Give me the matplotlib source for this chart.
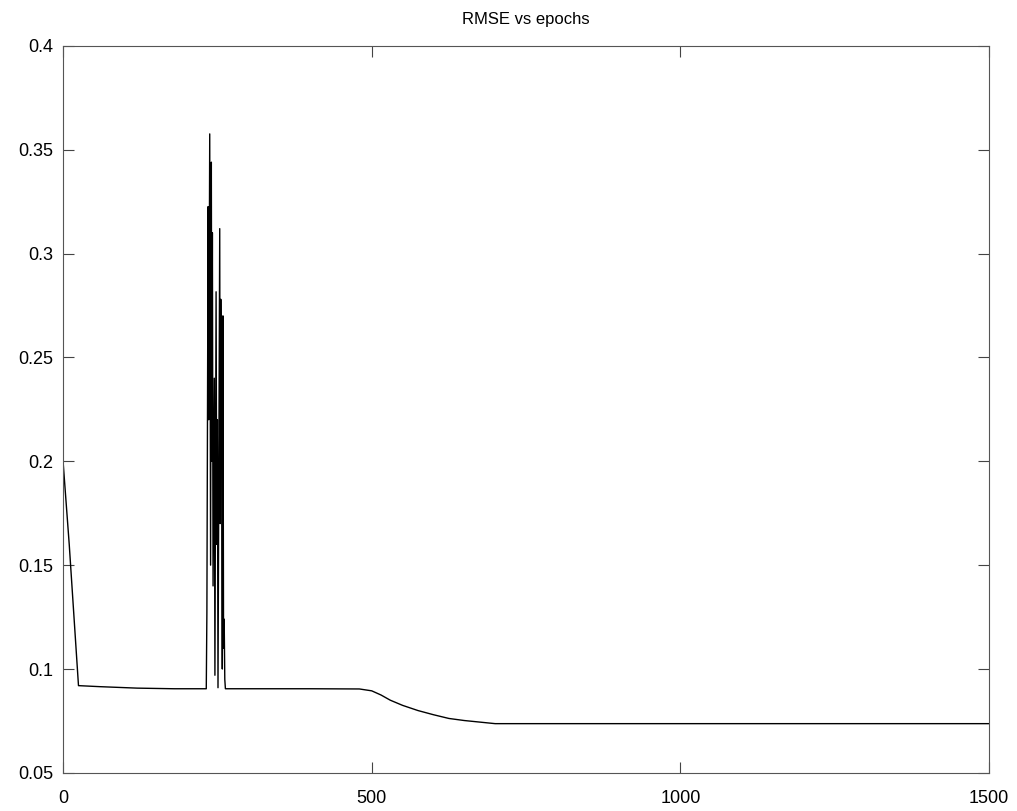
import numpy as np
import matplotlib
matplotlib.use("Agg")
import matplotlib.pyplot as plt

plt.rcParams['font.family'] = ['Liberation Sans', 'DejaVu Sans']

# epochs / RMSE
epochs = [0, 10, 25, 60, 120, 180, 232,
          233, 235, 236, 237.6, 239, 240.2, 241, 241.9, 243, 245, 246, 247.9,
          249, 250, 251, 253.8, 254.5, 255.5, 257, 258, 259, 260, 261, 262, 263,
          300, 400, 480, 500, 515, 530, 550, 575, 600, 625, 650, 700, 1500]
rmse = [0.2, 0.16, 0.092, 0.0915, 0.0908, 0.0905, 0.0905,
        0.127, 0.3226, 0.22, 0.3576, 0.15, 0.344, 0.2, 0.31, 0.14, 0.24, 0.097, 0.2816,
        0.16, 0.22, 0.091, 0.312, 0.17, 0.278, 0.2, 0.1, 0.27, 0.11, 0.124, 0.095, 0.0905,
        0.0905, 0.0905, 0.0904, 0.0895, 0.0875, 0.085, 0.0825, 0.08, 0.078, 0.0762, 0.0752, 0.0737, 0.0737]

fig = plt.figure(figsize=(10.17, 8.11), dpi=100)
ax = fig.add_axes([0.062, 0.047, 0.9105, 0.8965])
ax.plot(epochs, rmse, color='black', linewidth=1)

ax.set_xlim(0, 1500)
ax.set_ylim(0.05, 0.4)
ax.set_xticks([0, 500, 1000, 1500])
ax.set_yticks(np.arange(0.05, 0.401, 0.05))
ax.set_yticklabels(['0.05', '0.1', '0.15', '0.2', '0.25', '0.3', '0.35', '0.4'])
ax.tick_params(direction='in', top=True, right=True, length=8, labelsize=13, color='#444444')
ax.tick_params(axis='x', pad=12)
ax.tick_params(axis='y', pad=7)
for s in ax.spines.values():
    s.set_color('#555555')
ax.set_title('RMSE vs epochs', fontsize=12, pad=16)

fig.savefig('out.png')
